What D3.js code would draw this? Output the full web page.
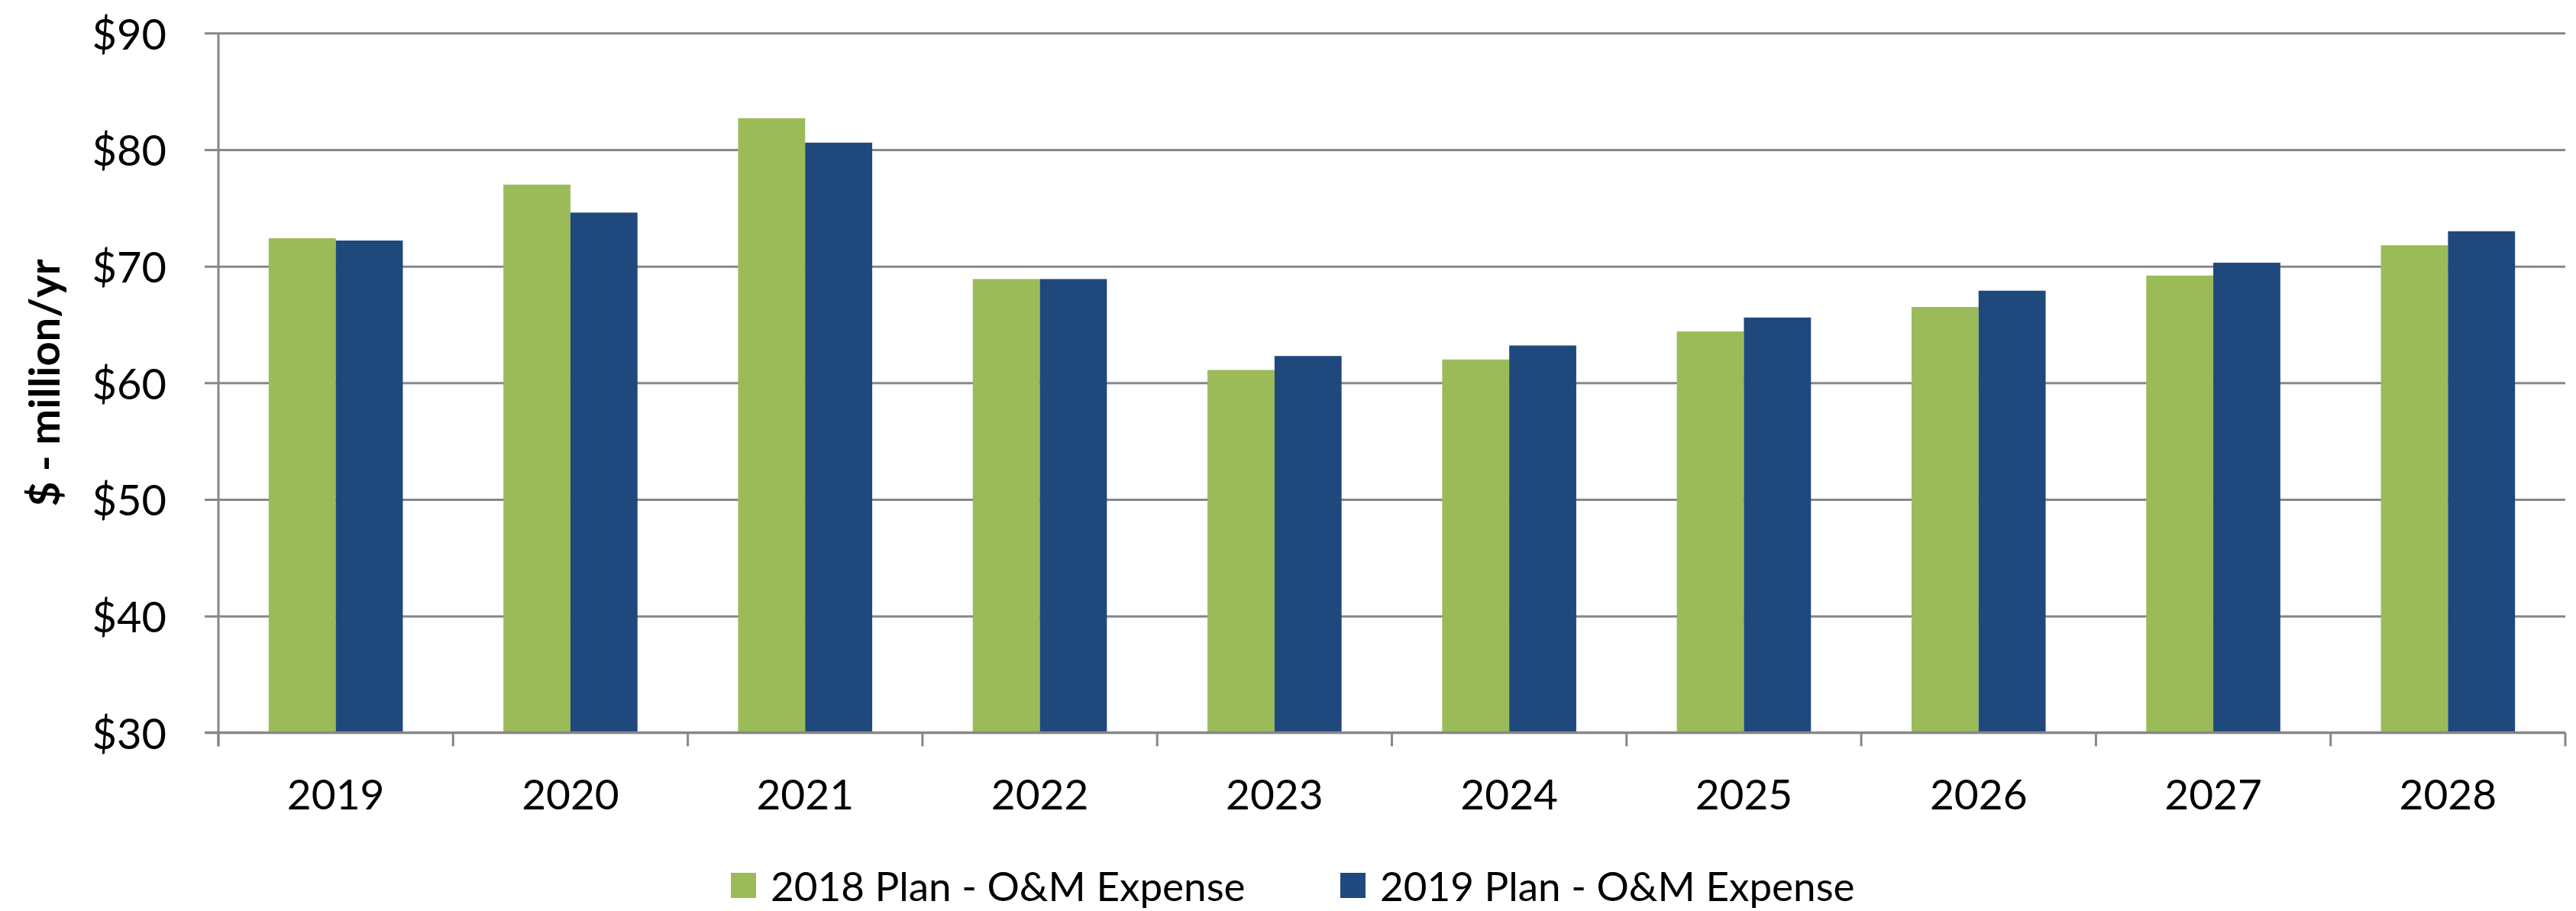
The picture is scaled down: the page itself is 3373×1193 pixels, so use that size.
<!DOCTYPE html>
<html>
<head>
<meta charset="utf-8">
<script src="https://cdn.jsdelivr.net/npm/d3@7"></script>
<style>
  html, body { margin: 0; padding: 0; background: #ffffff; }
  svg { display: block; }
  text { font-family: Lato, "Open Sans", sans-serif; fill: #000; }
</style>
</head>
<body>
<script>
// ---- data ----
const categories = ["2019", "2020", "2021", "2022", "2023", "2024", "2025", "2026", "2027", "2028"];
const seriesNames = ["2018 Plan - O&M Expense", "2019 Plan - O&M Expense"];
const plan2018 = [72.4, 77.0, 82.7, 68.9, 61.1, 62.0, 64.4, 66.5, 69.2, 71.8];
const plan2019 = [72.2, 74.6, 80.6, 68.9, 62.3, 63.2, 65.6, 67.9, 70.3, 73.0];
const yTicks = [30, 40, 50, 60, 70, 80, 90];
const yTickLabels = ["$30", "$40", "$50", "$60", "$70", "$80", "$90"];
const yAxisTitle = "$ - million/yr";
const colors = ["#9BBB59", "#1F497D"];

// ---- layout ----
const W = 3373, H = 1193;
const plot = { left: 286, right: 3359, top: 43.3, bottom: 959.3 };
const gridColor = "#878787";

const svg = d3.select("body").append("svg").attr("width", W).attr("height", H);

const x0 = d3.scaleBand().domain(categories).range([plot.left, plot.right]).paddingInner(0).paddingOuter(0);
const x1 = d3.scaleBand().domain([0, 1]).range([0, x0.bandwidth()]).paddingInner(0).paddingOuter(0.75);
const y = d3.scaleLinear().domain([30, 90]).range([plot.bottom, plot.top]);

// gridlines (with left tick extension)
const yAxis = d3.axisLeft(y).tickValues(yTicks).tickSize(-(plot.right - plot.left)).tickFormat("");
const gGrid = svg.append("g").attr("transform", `translate(${plot.left},0)`).call(yAxis);
gGrid.select(".domain").remove();
gGrid.selectAll(".tick line").attr("stroke", gridColor).attr("stroke-width", 3)
  .attr("x1", -18);

// y tick labels
svg.append("g").selectAll("text").data(yTicks).join("text")
  .attr("x", 218).attr("y", d => y(d))
  .attr("text-anchor", "end").attr("dominant-baseline", "central")
  .style("font-size", "56px")
  .text((d, i) => yTickLabels[i]);

// bars
const data = categories.map((c, i) => ({ c, vals: [plan2018[i], plan2019[i]] }));
const groups = svg.append("g").selectAll("g").data(data).join("g")
  .attr("transform", d => `translate(${x0(d.c)},0)`);
groups.selectAll("rect").data(d => d.vals.map((v, k) => ({ v, k }))).join("rect")
  .attr("x", d => x1(d.k))
  .attr("width", x1.bandwidth())
  .attr("y", d => y(d.v))
  .attr("height", d => y(30) - y(d.v))
  .attr("fill", d => colors[d.k]);

// x axis baseline + tick marks
const xTickPos = categories.map(c => x0(c)).concat([plot.right]);
svg.append("line").attr("x1", plot.left - 18).attr("x2", plot.right)
  .attr("y1", plot.bottom).attr("y2", plot.bottom)
  .attr("stroke", gridColor).attr("stroke-width", 3);
svg.append("g").selectAll("line").data(xTickPos).join("line")
  .attr("x1", d => d).attr("x2", d => d)
  .attr("y1", plot.bottom).attr("y2", plot.bottom + 18)
  .attr("stroke", gridColor).attr("stroke-width", 3);
// y axis line
svg.append("line").attr("x1", plot.left).attr("x2", plot.left)
  .attr("y1", plot.top).attr("y2", plot.bottom + 18)
  .attr("stroke", gridColor).attr("stroke-width", 3);

// category labels
svg.append("g").selectAll("text").data(categories).join("text")
  .attr("x", d => x0(d) + x0.bandwidth() / 2)
  .attr("y", 1060)
  .attr("text-anchor", "middle")
  .style("font-size", "55px")
  .text(d => d);

// y axis title
svg.append("text")
  .attr("transform", `translate(78,${(plot.top + plot.bottom) / 2}) rotate(-90)`)
  .attr("text-anchor", "middle")
  .style("font-size", "56px").style("font-weight", "bold")
  .text(yAxisTitle);

// legend
const legendX = [957, 1755];
const lg = svg.append("g").selectAll("g").data(seriesNames).join("g")
  .attr("transform", (d, i) => `translate(${legendX[i]},1143)`);
lg.append("rect").attr("width", 33).attr("height", 33).attr("fill", (d, i) => colors[i]);
lg.append("text").attr("x", 52).attr("y", 16).attr("dominant-baseline", "central")
  .style("font-size", "53px").text(d => d);
</script>
</body>
</html>
